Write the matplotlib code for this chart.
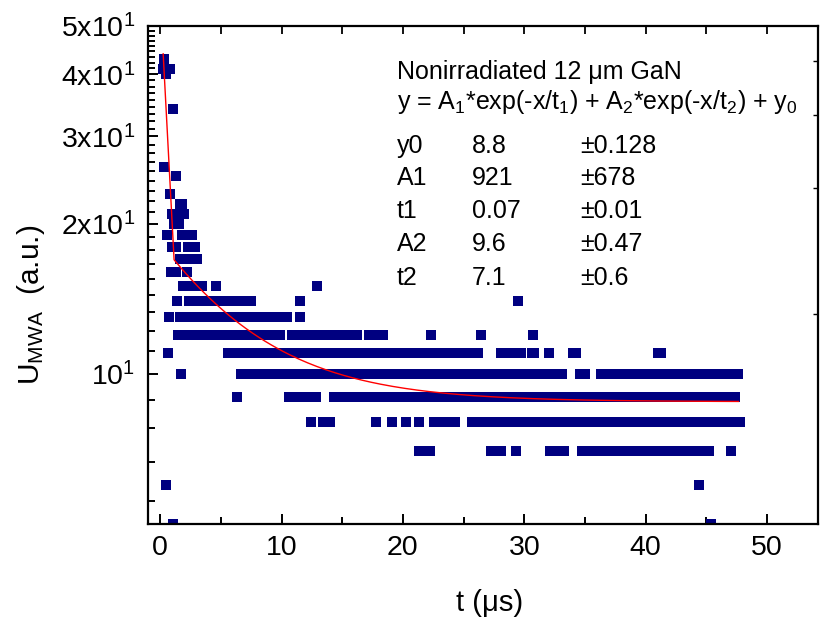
import numpy as np
import matplotlib
matplotlib.use('Agg')
import matplotlib.pyplot as plt
from matplotlib.ticker import FixedLocator, NullFormatter, NullLocator

plt.rcParams['font.family'] = ['Liberation Sans', 'DejaVu Sans']
plt.rcParams['mathtext.fontset'] = 'custom'
plt.rcParams['mathtext.rm'] = 'Liberation Sans'
plt.rcParams['mathtext.it'] = 'Liberation Sans:italic'
plt.rcParams['mathtext.bf'] = 'Liberation Sans:bold'

# ---- data: runs of measured points (t start, t end) per signal level ----
u43 = [(0.3, 0.3)]
u41 = [(0.25, 0.8)]
u40 = [(0.5, 0.5)]
u34 = [(1.05, 1.05)]
u26 = [(0.3, 0.3)]
u25 = [(1.3, 1.3)]
u23 = [(0.8, 0.8)]
u22 = [(1.6, 1.8)]
u21 = [(1.0, 2.0)]
u20 = [(1.15, 1.55)]
u19 = [(0.6, 0.6), (1.8, 2.65)]
u18 = [(1.0, 1.3), (2.3, 2.9)]
u17 = [(1.65, 3.0)]
u16 = [(0.9, 1.3), (2.2, 2.2)]
u15 = [(1.9, 3.45), (4.6, 4.6), (12.9, 12.9)]
u14 = [(1.4, 1.4), (2.4, 7.45), (11.5, 11.5), (29.5, 29.5)]
u13 = [(0.72, 0.72), (1.65, 10.45), (11.55, 11.55)]
u12 = [(1.45, 9.9), (10.9, 16.2), (17.2, 18.4), (22.3, 22.3), (26.4, 26.4), (30.7, 30.7)]
u11 = [(0.67, 0.67), (5.57, 26.2), (28.1, 29.7), (30.6, 30.8), (32.0, 32.0),
       (34.0, 34.3), (41.0, 41.3)]
u10 = [(1.7, 1.7), (6.7, 33.1), (34.6, 35.0), (36.3, 47.6)]
u9 = [(6.3, 6.3), (10.6, 12.8), (14.3, 47.4)]
u8 = [(12.4, 12.4), (13.4, 14.0), (17.8, 17.8), (19.1, 19.1), (20.25, 20.25),
      (21.3, 21.3), (22.6, 24.3), (25.7, 47.8)]
u7 = [(21.3, 22.2), (27.3, 28.1), (29.3, 29.3), (32.1, 33.25), (34.75, 45.2), (47.0, 47.0)]
u6 = [(0.5, 0.5), (44.4, 44.4)]
u5 = [(1.1, 1.1), (45.4, 45.4)]

level_runs = [(43, u43), (41, u41), (40, u40), (34, u34), (26, u26), (25, u25),
              (23, u23), (22, u22), (21, u21), (20, u20), (19, u19), (18, u18),
              (17, u17), (16, u16), (15, u15), (14, u14), (13, u13), (12, u12),
              (11, u11), (10, u10), (9, u9), (8, u8), (7, u7), (6, u6), (5, u5)]

# fit parameters (from the chart)
y0, A1, t1, A2, t2 = 8.8, 921.0, 0.07, 9.6, 7.1
fit_t = np.concatenate([[0.25], np.arange(1.15, 47.85, 0.25)])

y_major = [10, 20, 30, 40, 50]
y_major_labels = [r'$\mathregular{10^{1}}$', r'$\mathregular{2x10^{1}}$',
                  r'$\mathregular{3x10^{1}}$', r'$\mathregular{4x10^{1}}$',
                  r'$\mathregular{5x10^{1}}$']
x_major = [0, 10, 20, 30, 40, 50]
x_minor = [5, 15, 25, 35, 45]
x_top = [0, 5, 10, 15, 20, 25, 30, 35, 40, 45, 50]
y_right = [13.2, 23.6, 33.2, 42.5]

# ---- expand runs into points ----
pts_t, pts_u = [], []
for lev, runs in level_runs:
    for a, b in runs:
        n = max(1, int(round((b - a) / 0.2)) + 1)
        ts = np.linspace(a, b, n)
        pts_t.extend(ts)
        pts_u.extend([lev] * n)

fig = plt.figure(figsize=(8.21, 6.22), dpi=100)
rect = [148 / 821, 1 - 524 / 622, 670 / 821, 498 / 622]
ax = fig.add_axes(rect)

ax.plot(pts_t, pts_u, linestyle='none', marker='s', markersize=7.7,
        markerfacecolor='#000080', markeredgecolor='#000080', markeredgewidth=0,
        zorder=2)
fit_y = A1 * np.exp(-fit_t / t1) + A2 * np.exp(-fit_t / t2) + y0
ax.plot(fit_t, fit_y, color='red', lw=1.0, zorder=3)

ax.set_yscale('log')
ax.set_xlim(-1, 54.2)
ax.set_ylim(5, 50)

ax.yaxis.set_major_locator(FixedLocator(y_major))
ax.yaxis.set_ticklabels(y_major_labels)
minor_y = []
for lo, hi in zip(y_major[:-1], y_major[1:]):
    step = (hi - lo) / 9
    minor_y += [lo + k * step for k in range(1, 9)]
minor_y += [10 - k * 10 / 9 for k in range(1, 5)]
ax.yaxis.set_minor_locator(FixedLocator(minor_y))
ax.yaxis.set_minor_formatter(NullFormatter())

ax.xaxis.set_major_locator(FixedLocator(x_major))
ax.xaxis.set_minor_locator(FixedLocator(x_minor))
ax.xaxis.set_minor_formatter(NullFormatter())

for s in ax.spines.values():
    s.set_linewidth(1.6)

ax.tick_params(axis='both', which='major', direction='in', length=7.5, width=1.4,
               labelsize=20.5, color='black')
ax.tick_params(axis='both', which='minor', direction='in', length=5, width=1.4,
               color='black')
ax.tick_params(axis='y', which='both', left=True, right=False)
ax.tick_params(axis='x', which='both', bottom=True, top=False)
ax.tick_params(axis='y', which='major', pad=9)
ax.tick_params(axis='x', which='major', pad=8)

# overlay axes for the mirror ticks on top and right
ov = fig.add_axes(rect, frameon=False, zorder=5)
ov.patch.set_visible(False)
ov.set_yscale('log')
ov.set_xlim(-1, 54.2)
ov.set_ylim(5, 50)
ov.xaxis.set_major_locator(FixedLocator(x_top))
ov.xaxis.set_minor_locator(NullLocator())
ov.yaxis.set_major_locator(FixedLocator(y_right))
ov.yaxis.set_minor_locator(NullLocator())
ov.tick_params(axis='x', which='both', bottom=False, top=True, labelbottom=False,
               labeltop=False, direction='in', length=5.5, width=1.3)
ov.tick_params(axis='y', which='both', left=False, right=True, labelleft=False,
               labelright=False, direction='in', length=3.5, width=1.0)

ax.set_xlabel('t (μs)', fontsize=21)
ax.xaxis.set_label_coords(0.51, -0.13)
ax.set_ylabel(r'U$_{\mathregular{MWA}}$  (a.u.)', fontsize=21.5)
ax.yaxis.set_label_coords(-0.15, 0.44)

# annotation block
fs = 18
def ftxt(x, y, s):
    fig.text(x / 821, 1 - y / 622, s, fontsize=fs, va='baseline', ha='left')

ftxt(397, 79, 'Nonirradiated 12 μm GaN')
ftxt(397, 109, r'y = A$_\mathregular{1}$*exp(-x/t$_\mathregular{1}$) + '
               r'A$_\mathregular{2}$*exp(-x/t$_\mathregular{2}$) + y$_\mathregular{0}$')
rows = [('y0', '8.8', '±0.128'), ('A1', '921', '±678'), ('t1', '0.07', '±0.01'),
        ('A2', '9.6', '±0.47'), ('t2', '7.1', '±0.6')]
for (a, b, c), yb in zip(rows, [153, 185, 218, 251, 285]):
    ftxt(397, yb, a)
    ftxt(472, yb, b)
    ftxt(580, yb, c)

fig.savefig('out.png', dpi=100)
